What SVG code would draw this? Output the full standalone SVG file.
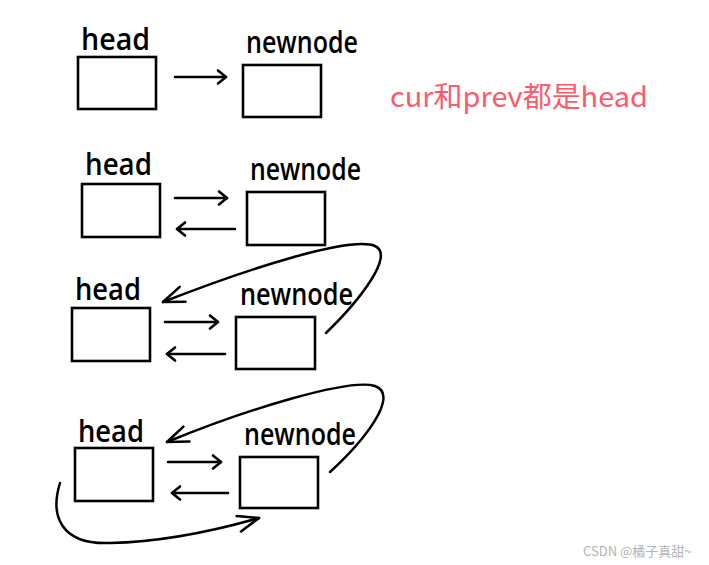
<svg xmlns="http://www.w3.org/2000/svg" width="709" height="565" viewBox="0 0 709 565">
<style>
.box{fill:#fff;stroke:#000;stroke-width:2.6}
.lbl{font-family:"Open Sans","DejaVu Sans",sans-serif;font-size:30px;font-weight:600;fill:#000}
.ln{fill:none;stroke:#000;stroke-width:2.5;stroke-linecap:round}
.note{font-family:"Noto Sans CJK SC","Noto Sans",sans-serif;font-size:28px;fill:#fb5a6c}
.wm{font-family:"Noto Sans CJK SC","Noto Sans",sans-serif;font-size:13px;fill:#b4b4b4}
</style>
<defs>
<marker id="sa" markerUnits="userSpaceOnUse" markerWidth="20" markerHeight="20" viewBox="-10 -10 20 20" refX="0" refY="0" orient="auto">
<path d="M-8,-6.5 L0,0 L-8,6.5" fill="none" stroke="#000" stroke-width="2.6" stroke-linecap="round" stroke-linejoin="round"/>
</marker>
<marker id="la" markerUnits="userSpaceOnUse" markerWidth="50" markerHeight="50" viewBox="-25 -25 50 50" refX="0" refY="0" orient="auto">
<path d="M-21,-8 L0,0 L-21,8" fill="none" stroke="#000" stroke-width="2.6" stroke-linecap="round" stroke-linejoin="round"/>
</marker>
</defs>
<rect width="709" height="565" fill="#fff"/>

<g id="row1-head"><text class="lbl" x="81" y="50" textLength="69" lengthAdjust="spacingAndGlyphs">head</text><rect class="box" x="78" y="57" width="78" height="52"/></g>
<g id="row1-newnode"><text class="lbl" x="246" y="53" textLength="112" lengthAdjust="spacingAndGlyphs">newnode</text><rect class="box" x="243" y="65" width="78" height="52"/></g>

<g id="row2-head"><text class="lbl" x="85" y="175" textLength="67" lengthAdjust="spacingAndGlyphs">head</text><rect class="box" x="82" y="184" width="78" height="53"/></g>
<g id="row2-newnode"><text class="lbl" x="250" y="180" textLength="111" lengthAdjust="spacingAndGlyphs">newnode</text><rect class="box" x="247" y="192" width="78" height="53"/></g>

<g id="row3-head"><text class="lbl" x="75" y="300" textLength="66" lengthAdjust="spacingAndGlyphs">head</text><rect class="box" x="72" y="308" width="78" height="53"/></g>
<g id="row3-newnode"><text class="lbl" x="240" y="305" textLength="113" lengthAdjust="spacingAndGlyphs">newnode</text><rect class="box" x="236" y="317" width="79" height="52"/></g>

<g id="row4-head"><text class="lbl" x="78" y="442" textLength="66" lengthAdjust="spacingAndGlyphs">head</text><rect class="box" x="75" y="448" width="78" height="53"/></g>
<g id="row4-newnode"><text class="lbl" x="244" y="445" textLength="112" lengthAdjust="spacingAndGlyphs">newnode</text><rect class="box" x="240" y="457" width="78" height="51"/></g>

<g id="connectors">
<path class="ln" d="M175,77 H226" marker-end="url(#sa)"/>
<path class="ln" d="M175,198 H227" marker-end="url(#sa)"/>
<path class="ln" d="M235,229 H177" marker-end="url(#sa)"/>
<path class="ln" d="M165,322 H218" marker-end="url(#sa)"/>
<path class="ln" d="M225,354 H167" marker-end="url(#sa)"/>
<path class="ln" d="M168,462 H221" marker-end="url(#sa)"/>
<path class="ln" d="M228,493 H172" marker-end="url(#sa)"/>
<path class="ln" d="M326,333 C360,300 395,255 375,246 C350,236 250,268 163,302" marker-end="url(#la)"/>
<path class="ln" d="M330,472 C365,440 400,395 375,386 C350,378 250,408 167,442" marker-end="url(#la)"/>
<path class="ln" d="M60,483 C50,515 60,545 110,543 C160,542 210,532 259,518" marker-end="url(#la)"/>
</g>

<text class="note" x="390" y="107" textLength="258" lengthAdjust="spacingAndGlyphs">cur和prev都是head</text>
<text class="wm" x="583" y="556">CSDN @橘子真甜~</text>
</svg>
